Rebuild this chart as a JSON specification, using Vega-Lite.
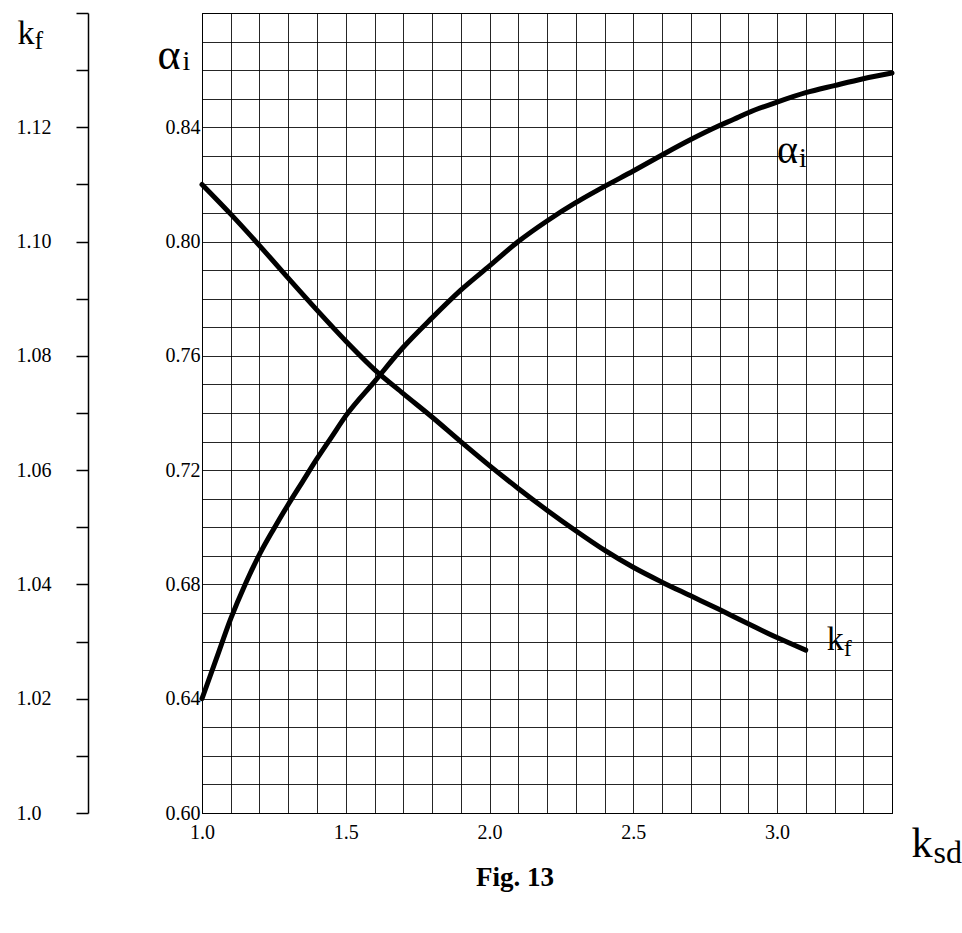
{
  "$schema": "https://vega.github.io/schema/vega-lite/v6.json",
  "width": 690,
  "height": 800,
  "autosize": "none",
  "padding": {"left": 202, "top": 13, "right": 70, "bottom": 120},
  "background": "white",
  "title": {"text": "Fig. 13", "orient": "bottom", "frame": "group", "anchor": "middle", "offset": -3, "dx": -32, "font": "Liberation Serif", "fontSize": 27, "fontWeight": "bold", "color": "black", "baseline": "top"},
  "config": {
    "font": "Liberation Serif",
    "view": {"stroke": "black", "strokeWidth": 1},
    "axis": {"labelColor": "black", "titleColor": "black", "labelFont": "Liberation Serif", "titleFont": "Liberation Serif", "titleFontWeight": "normal", "labelFontWeight": "normal"}
  },
  "datasets": {
    "alpha": [
      {"x": 1.0, "a": 0.640}, {"x": 1.05, "a": 0.654}, {"x": 1.1, "a": 0.668}, {"x": 1.15, "a": 0.680},
      {"x": 1.2, "a": 0.6905}, {"x": 1.25, "a": 0.6995}, {"x": 1.3, "a": 0.708}, {"x": 1.35, "a": 0.716},
      {"x": 1.4, "a": 0.724}, {"x": 1.45, "a": 0.7315}, {"x": 1.5, "a": 0.739}, {"x": 1.6, "a": 0.751},
      {"x": 1.7, "a": 0.763}, {"x": 1.8, "a": 0.7733}, {"x": 1.9, "a": 0.783}, {"x": 2.0, "a": 0.7915},
      {"x": 2.1, "a": 0.8}, {"x": 2.2, "a": 0.8072}, {"x": 2.3, "a": 0.8136}, {"x": 2.35, "a": 0.8165},
      {"x": 2.4, "a": 0.8193}, {"x": 2.5, "a": 0.8247}, {"x": 2.6, "a": 0.8303}, {"x": 2.7, "a": 0.8357},
      {"x": 2.8, "a": 0.8406}, {"x": 2.85, "a": 0.8428}, {"x": 2.9, "a": 0.8451}, {"x": 3.0, "a": 0.8488},
      {"x": 3.1, "a": 0.8521}, {"x": 3.2, "a": 0.8546}, {"x": 3.3, "a": 0.857}, {"x": 3.4, "a": 0.859}
    ],
    "kf": [
      {"x": 1.0, "k": 1.110}, {"x": 1.1, "k": 1.1048}, {"x": 1.2, "k": 1.0993}, {"x": 1.3, "k": 1.0936},
      {"x": 1.4, "k": 1.0880}, {"x": 1.5, "k": 1.0826}, {"x": 1.6, "k": 1.0776}, {"x": 1.7, "k": 1.0734},
      {"x": 1.8, "k": 1.0693}, {"x": 1.9, "k": 1.0650}, {"x": 2.0, "k": 1.0608}, {"x": 2.1, "k": 1.0568},
      {"x": 2.2, "k": 1.0530}, {"x": 2.3, "k": 1.0494}, {"x": 2.4, "k": 1.0460}, {"x": 2.5, "k": 1.0430},
      {"x": 2.6, "k": 1.0404}, {"x": 2.7, "k": 1.0380}, {"x": 2.8, "k": 1.0356}, {"x": 2.9, "k": 1.0331},
      {"x": 3.0, "k": 1.0307}, {"x": 3.1, "k": 1.0285}
    ],
    "notes": [
      {"x": 3.0, "a": 0.8275}
    ]
  },
  "layer": [
    {
      "data": {"name": "alpha"},
      "mark": {"type": "line", "color": "black", "strokeWidth": 5, "strokeCap": "round", "strokeJoin": "round", "interpolate": "monotone"},
      "encoding": {
        "x": {"field": "x", "type": "quantitative", "scale": {"domain": [1.0, 3.4], "nice": false, "zero": false},
          "axis": {"orient": "bottom",
            "values": [1.0, 1.1, 1.2, 1.3, 1.4, 1.5, 1.6, 1.7, 1.8, 1.9, 2.0, 2.1, 2.2, 2.3, 2.4, 2.5, 2.6, 2.7, 2.8, 2.9, 3.0, 3.1, 3.2, 3.3, 3.4],
            "labelExpr": "(round(datum.value*10) % 5 == 0 && datum.value < 3.2) ? format(datum.value, '.1f') : ''",
            "ticks": false, "tickSize": 0, "domain": true, "domainColor": "black", "domainWidth": 1,
            "grid": true, "gridColor": "black", "gridWidth": 1, "gridOpacity": 0.85,
            "labelFontSize": 20, "labelPadding": 9, "labelDx": 3, "labelFlush": false, "labelOverlap": false,
            "title": "k", "titleFontSize": 42, "titleX": 709, "titleY": 43, "titleAlign": "left", "titleBaseline": "alphabetic", "titleAngle": 0}},
        "y": {"field": "a", "type": "quantitative", "scale": {"domain": [0.6, 0.88], "nice": false, "zero": false},
          "axis": {"orient": "left",
            "values": [0.60, 0.61, 0.62, 0.63, 0.64, 0.65, 0.66, 0.67, 0.68, 0.69, 0.70, 0.71, 0.72, 0.73, 0.74, 0.75, 0.76, 0.77, 0.78, 0.79, 0.80, 0.81, 0.82, 0.83, 0.84, 0.85, 0.86, 0.87, 0.88],
            "labelExpr": "(round(datum.value*100) % 4 == 0 && datum.value < 0.87) ? format(datum.value, '.2f') : ''",
            "ticks": false, "tickSize": 0, "domain": true, "domainColor": "black", "domainWidth": 1,
            "grid": true, "gridColor": "black", "gridWidth": 1, "gridOpacity": 0.85,
            "labelFontSize": 20, "labelPadding": 2, "labelFlush": false, "labelOverlap": false,
            "title": "α", "titleFontSize": 44, "titleX": -45, "titleY": 55, "titleAlign": "left", "titleBaseline": "alphabetic", "titleAngle": 0}}
      }
    },
    {
      "data": {"name": "kf"},
      "mark": {"type": "line", "color": "black", "strokeWidth": 5, "strokeCap": "round", "strokeJoin": "round", "interpolate": "monotone"},
      "encoding": {
        "x": {"field": "x", "type": "quantitative", "scale": {"domain": [1.0, 3.4], "nice": false, "zero": false},
          "axis": {"orient": "bottom", "labels": false, "ticks": false, "domain": false, "grid": false,
            "title": "sd", "titleFontSize": 32, "titleX": 731, "titleY": 49, "titleAlign": "left", "titleBaseline": "alphabetic", "titleAngle": 0}},
        "y": {"field": "k", "type": "quantitative", "scale": {"domain": [1.0, 1.14], "nice": false, "zero": false},
          "axis": {"orient": "left", "offset": 114,
            "values": [1.00, 1.01, 1.02, 1.03, 1.04, 1.05, 1.06, 1.07, 1.08, 1.09, 1.10, 1.11, 1.12, 1.13, 1.14],
            "labelExpr": "datum.value < 1.005 ? '1.0' : ((round(datum.value*100) % 2 == 0 && datum.value < 1.13) ? format(datum.value, '.2f') : '')",
            "ticks": true, "tickSize": 12, "tickColor": "black", "tickWidth": 1.5,
            "domain": true, "domainColor": "black", "domainWidth": 1.5, "grid": false,
            "labelFontSize": 20, "labelAlign": "left", "labelPadding": 60, "labelFlush": false, "labelOverlap": false,
            "title": "k", "titleFontSize": 34, "titleX": -71, "titleY": 30, "titleAlign": "left", "titleBaseline": "alphabetic", "titleAngle": 0}}
      }
    },
    {
      "data": {"name": "notes"},
      "mark": {"type": "text", "text": "α", "fontSize": 40, "align": "left", "baseline": "alphabetic", "color": "black", "font": "Liberation Serif"},
      "encoding": {
        "x": {"field": "x", "type": "quantitative", "scale": {"domain": [1.0, 3.4], "nice": false, "zero": false}, "axis": null},
        "y": {"field": "a", "type": "quantitative", "scale": {"domain": [0.6, 0.88], "nice": false, "zero": false},
          "axis": {"orient": "left", "labels": false, "ticks": false, "domain": false, "grid": false,
            "title": "i", "titleFontSize": 28, "titleX": -20, "titleY": 56, "titleAlign": "left", "titleBaseline": "alphabetic", "titleAngle": 0}}
      }
    },
    {
      "data": {"name": "notes"},
      "mark": {"type": "text", "text": "i", "fontSize": 28, "align": "left", "baseline": "alphabetic", "dx": 22, "dy": 4, "color": "black", "font": "Liberation Serif"},
      "encoding": {
        "x": {"field": "x", "type": "quantitative", "scale": {"domain": [1.0, 3.4], "nice": false, "zero": false}, "axis": null},
        "y": {"field": "a", "type": "quantitative", "scale": {"domain": [0.6, 0.88], "nice": false, "zero": false},
          "axis": {"orient": "left", "labels": false, "ticks": false, "domain": false, "grid": false,
            "title": "f", "titleFontSize": 26, "titleX": -168, "titleY": 35, "titleAlign": "left", "titleBaseline": "alphabetic", "titleAngle": 0}}
      }
    },
    {
      "data": {"name": "kf"},
      "transform": [{"filter": "datum.x == 3.1"}],
      "mark": {"type": "text", "text": "k", "fontSize": 34, "align": "left", "baseline": "alphabetic", "dx": 21, "color": "black", "font": "Liberation Serif"},
      "encoding": {
        "x": {"field": "x", "type": "quantitative", "scale": {"domain": [1.0, 3.4], "nice": false, "zero": false}, "axis": null},
        "y": {"field": "k", "type": "quantitative", "scale": {"domain": [1.0, 1.14], "nice": false, "zero": false}, "axis": null}
      }
    },
    {
      "data": {"name": "kf"},
      "transform": [{"filter": "datum.x == 3.1"}],
      "mark": {"type": "text", "text": "f", "fontSize": 24, "align": "left", "baseline": "alphabetic", "dx": 38, "dy": 6, "color": "black", "font": "Liberation Serif"},
      "encoding": {
        "x": {"field": "x", "type": "quantitative", "scale": {"domain": [1.0, 3.4], "nice": false, "zero": false}, "axis": null},
        "y": {"field": "k", "type": "quantitative", "scale": {"domain": [1.0, 1.14], "nice": false, "zero": false}, "axis": null}
      }
    }
  ],
  "resolve": {"scale": {"x": "independent", "y": "independent"}, "axis": {"x": "independent", "y": "independent"}}
}
